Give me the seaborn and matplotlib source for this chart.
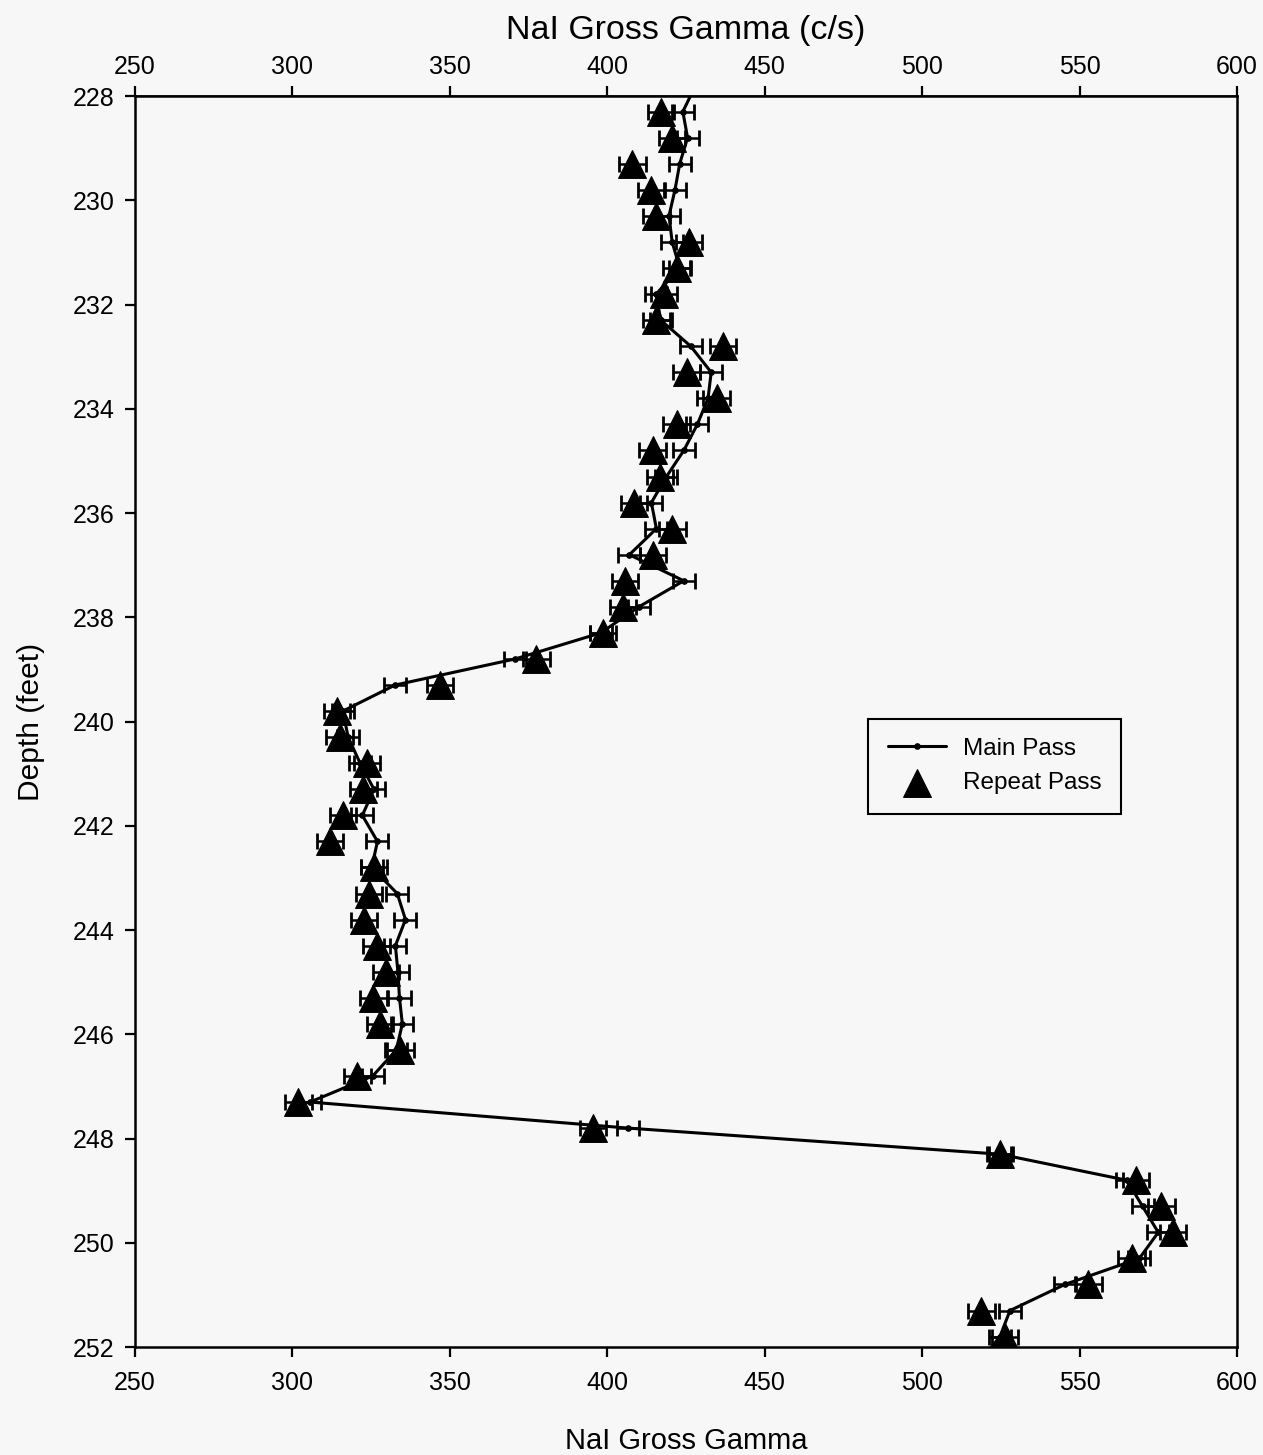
import numpy as np
import pandas as pd
import matplotlib
matplotlib.use("Agg")
import matplotlib.pyplot as plt
import seaborn as sns

# Depths (feet) of the logged stations, 0.5 ft spacing
depth = [228.3 + 0.5 * k for k in range(48)]

# NaI gross gamma count rate (c/s), main logging pass
main_pass = [424, 425.5, 423, 421.5, 419.6, 420.6, 423, 415.5, 417, 426.5,
             433, 432, 428.6, 424.3, 418.8, 414, 415.6, 407, 424.3, 410,
             397.9, 370.7, 332.6, 316, 317.7, 321.5, 325.9, 322.2, 327, 325.2,
             333.3, 335.9, 332.7, 333.5, 334, 334.9, 333, 325.5, 305.6, 406.7,
             524.7, 565, 570, 575, 569, 545.3, 527.9, 524.7]
# main pass continues just outside the plotted depth window
main_top = (227.8, 428)
main_bottom = (252.3, 518)

# NaI gross gamma count rate (c/s), repeat pass
repeat_pass = [417, 420.5, 408, 414, 415.6, 426, 422, 418, 415.6, 436.8,
               425.2, 434.7, 422, 414.4, 416.7, 408.5, 420.7, 414.6, 405.6, 405,
               398.7, 377.5, 346.9, 314.2, 315, 323.7, 322.5, 316, 312, 325.9,
               324.4, 322.7, 326.7, 329.7, 325.7, 327.8, 334.3, 320.6, 301.9, 395.5,
               524.7, 568, 576, 579.7, 566.5, 552.8, 518.8, 526.3]

main_err = 3.5
repeat_err = 4.2

x_ticks = [250, 300, 350, 400, 450, 500, 550, 600]
y_ticks = list(range(228, 253, 2))

main_df = pd.DataFrame({
    "depth": [main_top[0]] + depth + [main_bottom[0]],
    "gamma": [main_top[1]] + main_pass + [main_bottom[1]],
})
repeat_df = pd.DataFrame({"depth": depth, "gamma": repeat_pass})

sns.set_theme(style="white")
plt.rcParams["font.family"] = ["Liberation Sans", "DejaVu Sans"]
plt.rcParams["text.color"] = "black"
plt.rcParams["axes.labelcolor"] = "black"
bg = "#f7f7f7"

fig = plt.figure(figsize=(12.63, 14.55), dpi=100, facecolor=bg)
ax = fig.add_axes([0.1069, 0.0742, 0.8725, 0.8598], facecolor=bg)

# main pass: line with small dots and horizontal error bars
sns.lineplot(data=main_df, x="gamma", y="depth", sort=False, estimator=None,
             color="black", lw=2.2, marker="o", markersize=4,
             markeredgecolor="black", ax=ax, label="Main Pass", zorder=3)
ax.errorbar(main_pass, depth, xerr=main_err, fmt="none", ecolor="black",
            elinewidth=1.8, capsize=6, capthick=2, zorder=3)

# repeat pass: filled triangles with their own error bars
ax.errorbar(repeat_pass, depth, xerr=repeat_err, fmt="none", ecolor="black",
            elinewidth=1.8, capsize=6, capthick=2, zorder=4)
sns.scatterplot(data=repeat_df, x="gamma", y="depth", marker="^", s=400,
                color="black", edgecolor="black", linewidth=0.8, ax=ax,
                label="Repeat Pass", zorder=5)

ax.set_xlim(250, 600)
ax.set_ylim(252, 228)
ax.set_xticks(x_ticks)
ax.set_yticks(y_ticks)
ax.tick_params(axis="both", which="both", direction="out", length=7, width=1.6,
               labelsize=18, colors="black", left=True, bottom=True)
ax.tick_params(axis="x", pad=10)
ax.tick_params(axis="y", pad=8)
ax.set_xlabel("NaI Gross Gamma", fontsize=21, labelpad=23)
ax.set_ylabel("Depth (feet)", fontsize=21.5, labelpad=20)

for side in ["left", "bottom", "top", "right"]:
    ax.spines[side].set_visible(True)
    ax.spines[side].set_color("black")
    ax.spines[side].set_linewidth(1.8)

# top axis repeats the count-rate scale
top = ax.secondary_xaxis("top")
top.set_xticks(x_ticks)
top.tick_params(direction="out", length=7, width=1.6, labelsize=18, pad=5,
                colors="black")
top.set_xlabel("NaI Gross Gamma (c/s)", fontsize=24.5, labelpad=12)

leg = ax.legend(loc="center", bbox_to_anchor=(0.780, 0.4644), fontsize=17.5,
                frameon=True, fancybox=False, edgecolor="black",
                facecolor=bg, framealpha=1, handlelength=2.4,
                borderpad=0.8, labelspacing=0.5, handletextpad=0.7,
                markerscale=1.0)
leg.get_frame().set_linewidth(1.5)

fig.savefig("out.png", dpi=100, facecolor=bg)
